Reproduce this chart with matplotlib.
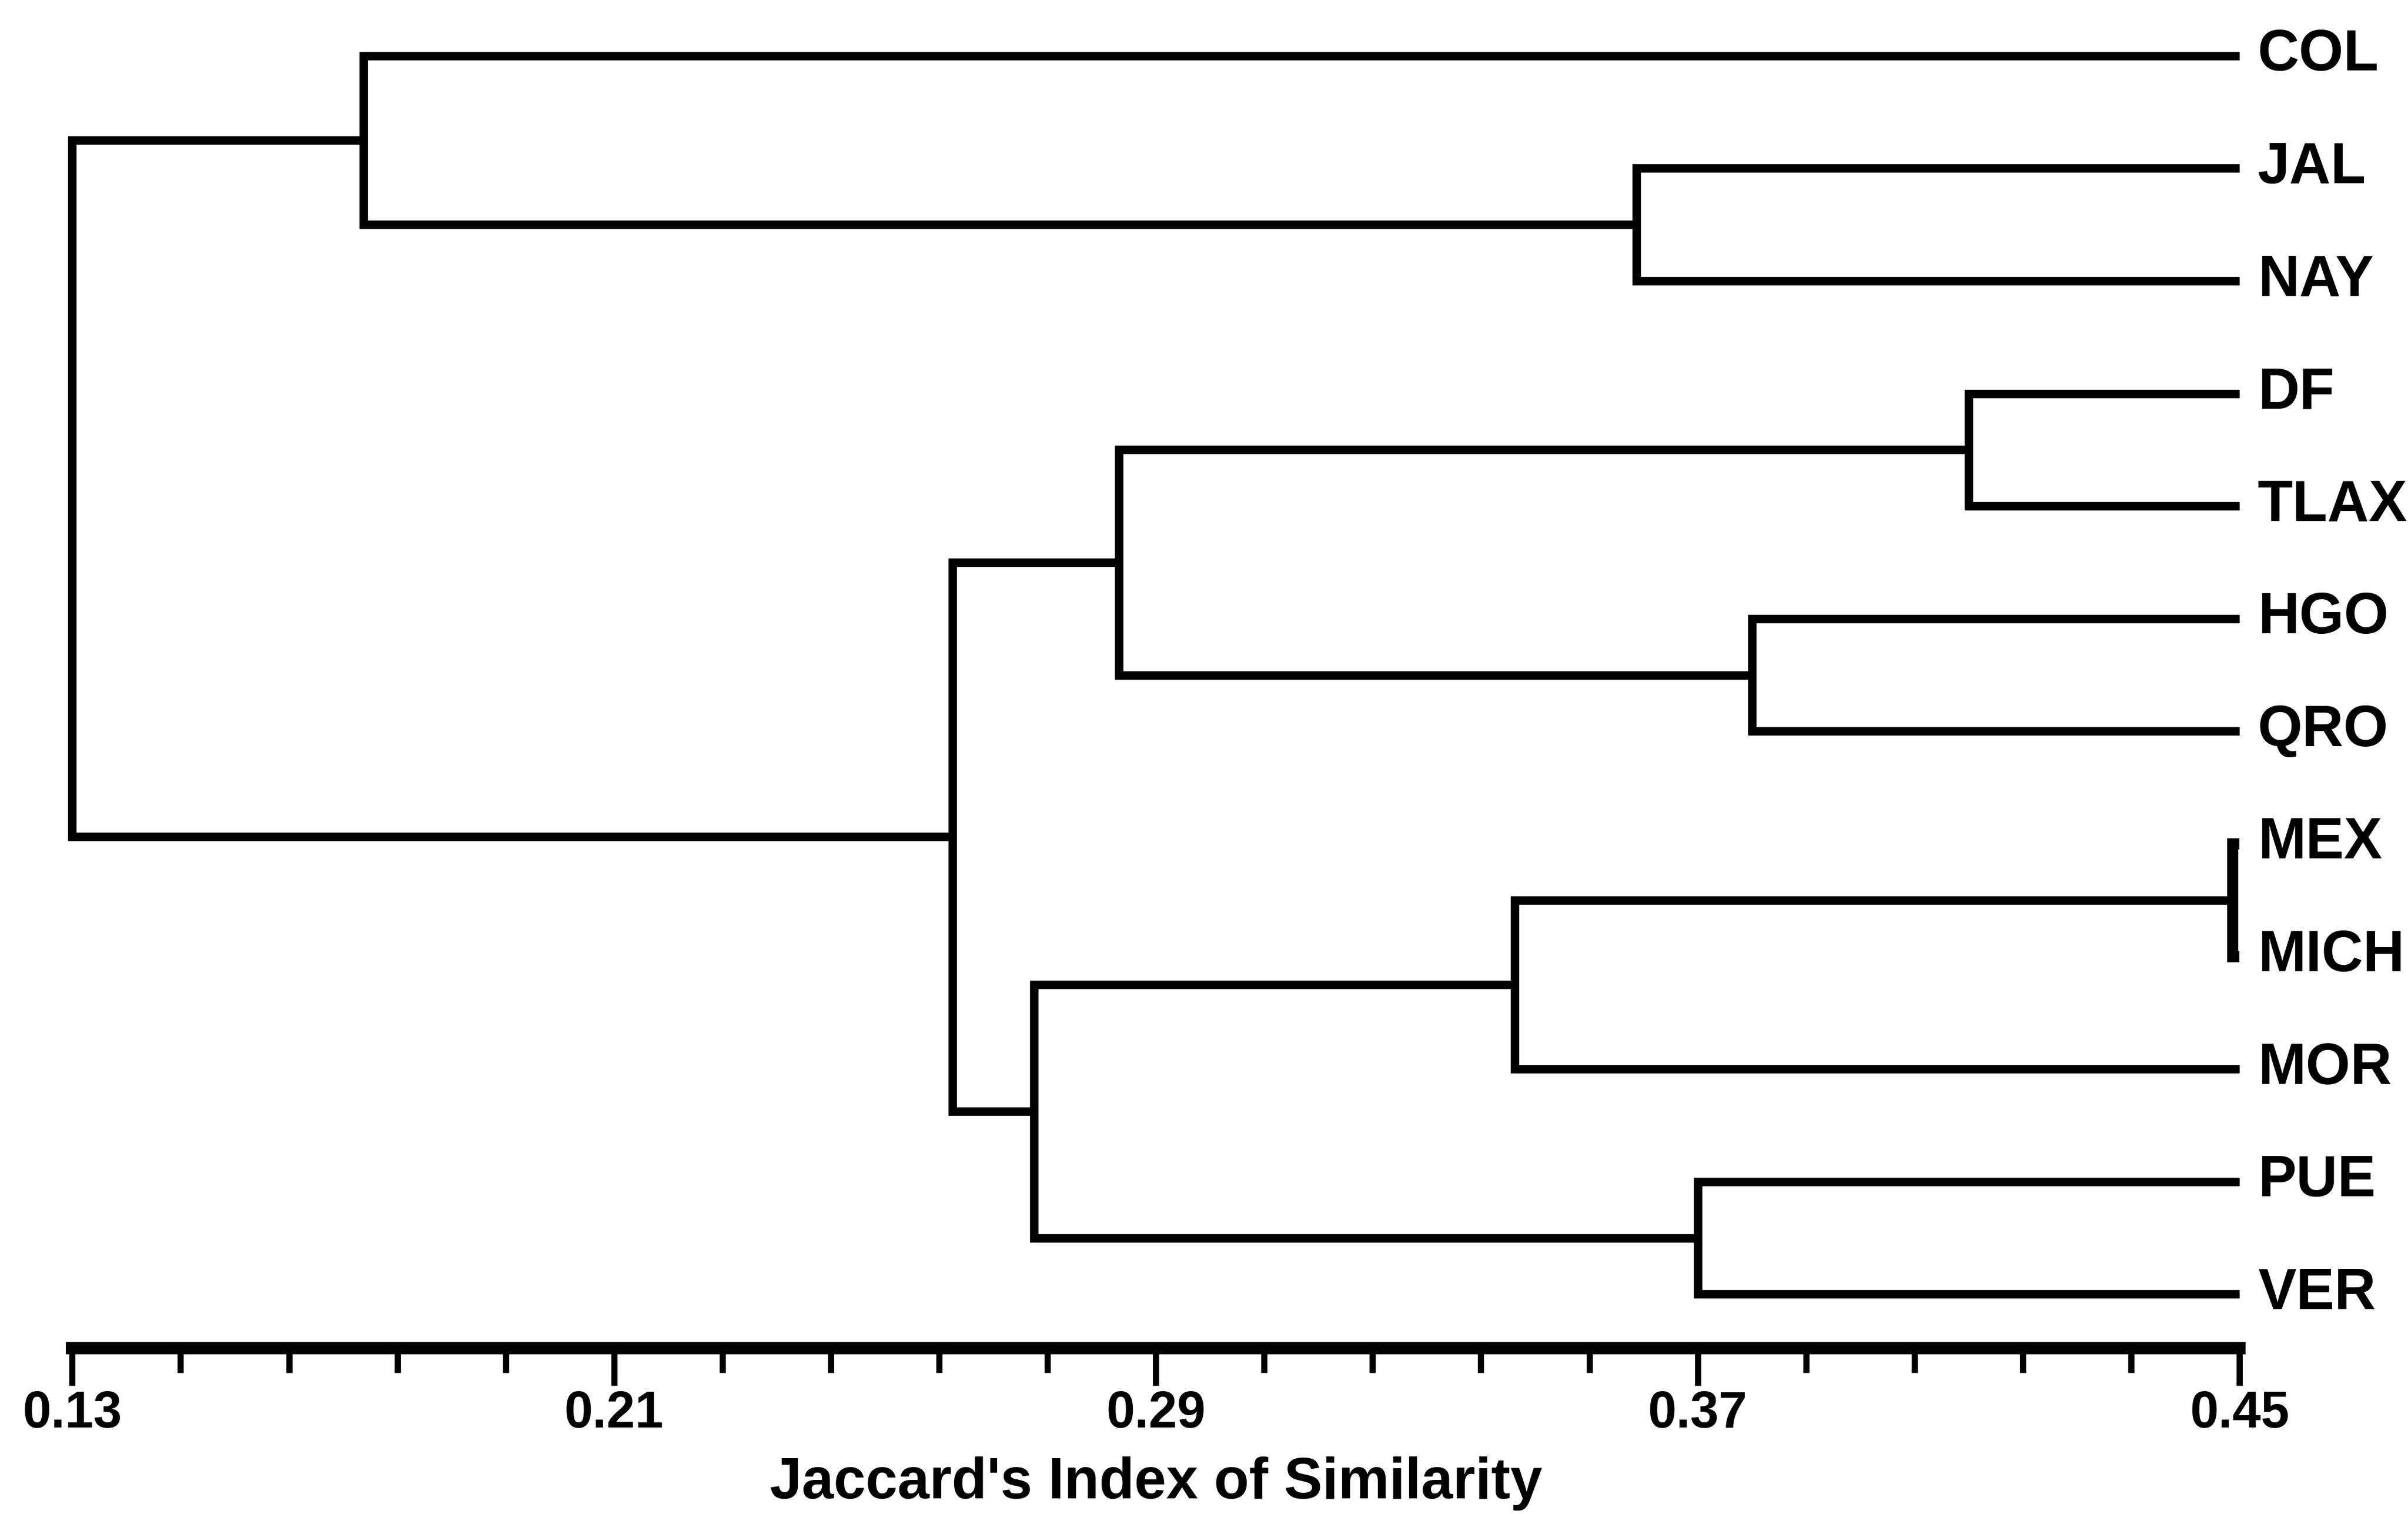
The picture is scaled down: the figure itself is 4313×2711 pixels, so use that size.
import matplotlib
matplotlib.use('Agg')
import numpy as np
from matplotlib import pyplot as plt

# листья дендрограммы (сверху вниз)
leaves = ['COL', 'JAL', 'NAY', 'DF', 'TLAX', 'HGO', 'QRO',
          'MEX', 'MICH', 'MOR', 'PUE', 'VER']

# слияния: кластер cN образуется из merge_a[N] и merge_b[N] на уровне merge_h[N]
merge_a = ['JAL', 'DF', 'HGO', 'MEX', 'PUE', 'c3', 'c1', 'c5', 'c6', 'COL', 'c9']
merge_b = ['NAY', 'TLAX', 'QRO', 'MICH', 'VER', 'MOR', 'c2', 'c4', 'c7', 'c0', 'c8']
merge_h = [0.361, 0.410, 0.378, 0.449, 0.370, 0.343, 0.2845, 0.272, 0.260, 0.173, 0.130]

major_ticks = [0.13, 0.21, 0.29, 0.37, 0.45]
xlabel = "Jaccard's Index of Similarity"

plt.rcParams['font.family'] = ['Liberation Sans', 'DejaVu Sans']
plt.rcParams['font.weight'] = 'bold'

fig = plt.figure(figsize=(21.565, 13.555), dpi=200)
ax = fig.add_axes([0.030, 0.1095, 0.900, 0.876])

# координаты узлов
pos_x = {name: 0.45 for name in leaves}
pos_y = {name: i for i, name in enumerate(leaves)}

lw = 5.5
for i, (a, b, h) in enumerate(zip(merge_a, merge_b, merge_h)):
    ax.plot([pos_x[a], h, h, pos_x[b]], [pos_y[a], pos_y[a], pos_y[b], pos_y[b]],
            color='black', lw=lw if h < 0.44 else lw * 1.3,
            solid_joinstyle='miter', solid_capstyle='butt', clip_on=False)
    pos_x['c%d' % i] = h
    pos_y['c%d' % i] = (pos_y[a] + pos_y[b]) / 2

# подписи листьев справа
for name in leaves:
    ax.text(0.4527, pos_y[name], name, fontsize=37, ha='left', va='center',
            fontweight='bold')

ax.set_xlim(0.13, 0.45)
ax.set_ylim(11.48, -0.3)

# оси
for s in ['left', 'top', 'right']:
    ax.spines[s].set_visible(False)
ax.spines['bottom'].set_linewidth(8)
ax.set_yticks([])
ax.set_xticks(major_ticks)
ax.set_xticks(np.arange(0.13, 0.4501, 0.016), minor=True)
ax.set_xticklabels(['%.2f' % t for t in major_ticks])
ax.tick_params(axis='x', which='major', direction='out', length=24, width=4,
               labelsize=33, pad=3)
ax.tick_params(axis='x', which='minor', direction='out', length=16, width=4)
ax.set_xlabel(xlabel, fontsize=37, fontweight='bold', labelpad=12)

fig.savefig('out.png', dpi=200)
